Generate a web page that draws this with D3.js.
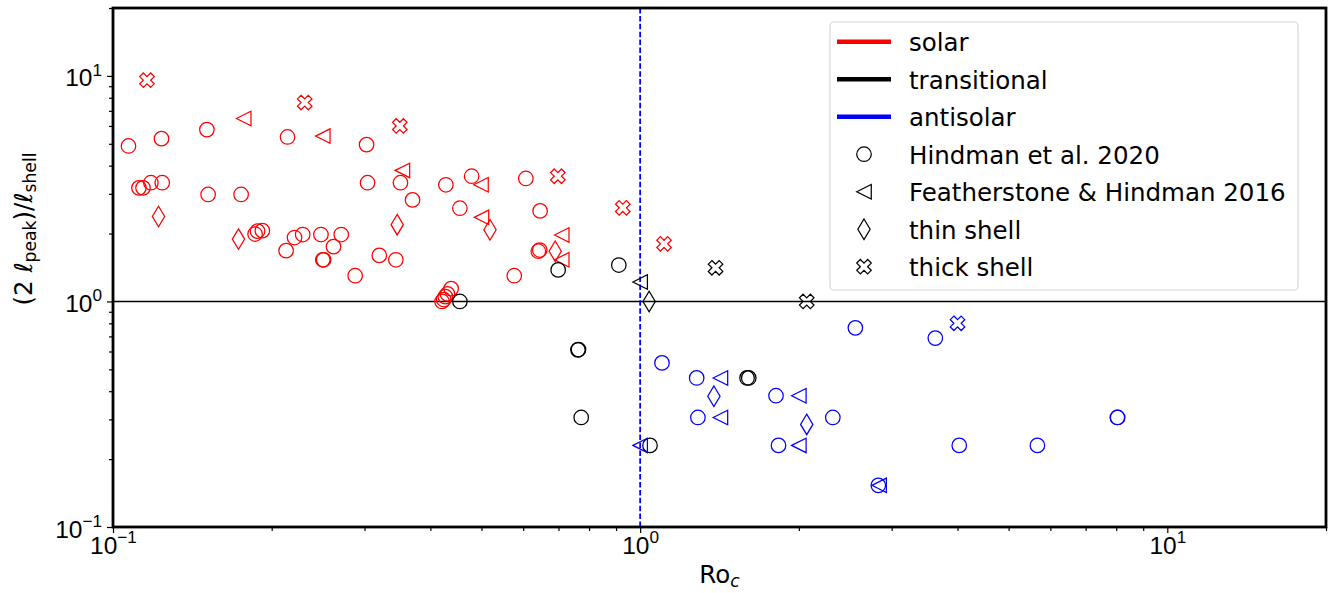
<!DOCTYPE html>
<html lang="en">
<head>
<meta charset="UTF-8">
<title>Ro_c vs peak wavenumber</title>
<script src="https://d3js.org/d3.v7.min.js"></script>
<style>
  body { margin: 0; background: #fff; }
  svg { font-family: "DejaVu Sans", sans-serif; }
</style>
</head>
<body>
<svg id="chart" width="1338" height="593"></svg>
<script>
// --- data: [Ro_c, (2 l_peak)/l_shell] ---
const solarHindman = [
  [0.107, 4.89], [0.1236, 5.27], [0.1507, 5.78], [0.2143, 5.36], [0.3027, 4.96],
  [0.112, 3.19], [0.114, 3.19], [0.118, 3.36], [0.124, 3.36],
  [0.1515, 2.98], [0.175, 2.98], [0.304, 3.36], [0.351, 3.36], [0.370, 2.82], [0.428, 3.29],
  [0.186, 1.99], [0.188, 2.05], [0.192, 2.06],
  [0.213, 1.68], [0.221, 1.92], [0.229, 1.98], [0.248, 1.98], [0.271, 1.98], [0.262, 1.75],
  [0.250, 1.53], [0.251, 1.53], [0.288, 1.30], [0.320, 1.60], [0.344, 1.53],
  [0.479, 3.59], [0.455, 2.59], [0.607, 3.51], [0.646, 2.52], [0.641, 1.67], [0.645, 1.69],
  [0.577, 1.30],
  [0.421, 1.0], [0.424, 1.02], [0.427, 1.05], [0.431, 1.08], [0.438, 1.14]
];
const solarFeather = [
  [0.177, 6.47], [0.25, 5.41], [0.354, 3.81], [0.499, 3.29], [0.50, 2.36], [0.71, 1.97], [0.71, 1.53]
];
const solarThin = [[0.122, 2.38], [0.173, 1.89], [0.346, 2.19], [0.519, 2.08], [0.69, 1.67]];
const solarThick = [[0.116, 9.57], [0.231, 7.62], [0.35, 6.0], [0.698, 3.59], [0.927, 2.60], [1.11, 1.80]];

const transHindman = [
  [0.699, 1.38], [0.911, 1.45], [0.455, 1.0], [0.762, 0.61], [0.764, 0.612],
  [0.773, 0.306], [1.044, 0.23], [1.595, 0.458], [1.607, 0.458]
];
const transFeather = [[1.0, 1.22]];
const transThin = [[1.04, 1.0]];
const transThick = [[1.39, 1.41], [2.07, 1.0]];

const antiHindman = [
  [1.10, 0.534], [1.28, 0.458], [1.287, 0.306], [1.81, 0.382], [1.83, 0.23], [2.32, 0.306],
  [2.56, 0.764], [3.63, 0.688], [4.03, 0.23], [5.67, 0.23], [8.04, 0.306], [8.05, 0.306],
  [2.83, 0.153]
];
const antiFeather = [[1.42, 0.458], [1.42, 0.306], [2.0, 0.382], [2.0, 0.23], [1.0, 0.23], [2.84, 0.153]];
const antiThin = [[1.38, 0.38], [2.07, 0.285]];
const antiThick = [[4.0, 0.80]];

const regimeLabels = ['solar', 'transitional', 'antisolar'];
const sourceLabels = ['Hindman et al. 2020', 'Featherstone & Hindman 2016', 'thin shell', 'thick shell'];
const majorTicks = [0.1, 1, 10];
const minorTicks = [0.2, 0.3, 0.4, 0.5, 0.6, 0.7, 0.8, 0.9, 2, 3, 4, 5, 6, 7, 8, 9, 20];

const colors = ['#ff0000', '#000000', '#0000ff'];
const shapes = ['circle', 'triangle', 'thin', 'x'];

const groups = [
  [solarHindman, solarFeather, solarThin, solarThick],
  [transHindman, transFeather, transThin, transThick],
  [antiHindman, antiFeather, antiThin, antiThick]
];

// --- layout ---
const svg = d3.select('#chart');
const L = 113, T = 8, R = 1326, B = 527;
const fs = 24.5;

const x = d3.scaleLog().domain([0.1, 20]).range([L, R]);
const y = d3.scaleLog().domain([0.1, 20]).range([B, T]);

const m = 14.5; // marker size
function markerPath(shape) {
  const h = m / 2;
  if (shape === 'triangle') return `M${-h},0L${h},${-h}L${h},${h}Z`;
  if (shape === 'thin') {
    const a = 0.707 * m, b = 0.424 * m;
    return `M0,${-a}L${b},0L0,${a}L${-b},0Z`;
  }
  if (shape === 'x') {
    const p = [[0.25, 0], [0.5, 0.25], [0.75, 0], [1, 0.25], [0.75, 0.5], [1, 0.75],
               [0.75, 1], [0.5, 0.75], [0.25, 1], [0, 0.75], [0.25, 0.5], [0, 0.25]];
    return 'M' + p.map(d => `${(d[0] - 0.5) * m},${(d[1] - 0.5) * m}`).join('L') + 'Z';
  }
  return d3.symbol(d3.symbolCircle, Math.PI * h * h)();
}

// reference lines
svg.append('line')
  .attr('x1', L).attr('x2', R).attr('y1', y(1)).attr('y2', y(1))
  .attr('stroke', '#000').attr('stroke-width', 1.5);
svg.append('line')
  .attr('x1', x(1)).attr('x2', x(1)).attr('y1', T).attr('y2', B)
  .attr('stroke', '#0000ff').attr('stroke-width', 1.8).attr('stroke-dasharray', '5.5,2.4');

// markers
groups.forEach((row, ci) => {
  row.forEach((data, si) => {
    svg.append('g').selectAll('path').data(data).join('path')
      .attr('d', markerPath(shapes[si]))
      .attr('transform', d => `translate(${x(d[0])},${y(d[1])})`)
      .attr('fill', 'none')
      .attr('stroke', colors[ci])
      .attr('stroke-width', 1.25);
  });
});

// axes
function styleAxis(g) {
  g.select('.domain').remove();
  g.selectAll('line').attr('stroke', '#000').attr('stroke-width', 1.2);
}
svg.append('g').attr('transform', `translate(0,${B})`)
  .call(d3.axisBottom(x).tickValues(minorTicks).tickSize(4).tickFormat(''))
  .call(styleAxis);
const xMaj = svg.append('g').attr('transform', `translate(0,${B})`)
  .call(d3.axisBottom(x).tickValues(majorTicks).tickSize(6).tickFormat(''))
  .call(styleAxis);
svg.append('g').attr('transform', `translate(${L},0)`)
  .call(d3.axisLeft(y).tickValues(minorTicks).tickSize(4).tickFormat(''))
  .call(styleAxis);
const yMaj = svg.append('g').attr('transform', `translate(${L},0)`)
  .call(d3.axisLeft(y).tickValues(majorTicks).tickSize(6).tickFormat(''))
  .call(styleAxis);

function powLabel(sel) {
  sel.selectAll('text').remove();
  const t = sel.append('text').attr('fill', '#000').attr('font-size', fs);
  t.append('tspan').text('10');
  t.append('tspan').attr('font-size', 17.2).attr('dy', -10.9)
    .text(d => String(Math.round(Math.log10(d))).replace('-', '\u2212'));
  return t;
}
powLabel(xMaj.selectAll('.tick')).attr('text-anchor', 'middle').attr('x', 0).attr('y', 27).attr('dy', null);
powLabel(yMaj.selectAll('.tick')).attr('text-anchor', 'end').attr('x', -11).attr('y', 10).attr('dy', null);

// frame
svg.append('rect')
  .attr('x', L).attr('y', T).attr('width', R - L).attr('height', B - T)
  .attr('fill', 'none').attr('stroke', '#000').attr('stroke-width', 2.8);

// axis labels
const xl = svg.append('text').attr('x', (L + R) / 2).attr('y', 583)
  .attr('text-anchor', 'middle').attr('font-size', fs);
xl.append('tspan').text('Ro');
xl.append('tspan').attr('font-size', 17.2).attr('font-style', 'italic').attr('dy', 4).text('c');

const yl = svg.append('text').attr('transform', 'translate(32,229) rotate(-90)')
  .attr('text-anchor', 'middle').attr('font-size', fs);
yl.append('tspan').text('(2 ');
yl.append('tspan').attr('font-style', 'italic').text('\u2113');
yl.append('tspan').attr('font-size', 17.2).attr('dy', 4).text('peak');
yl.append('tspan').attr('dy', -4).text(')/');
yl.append('tspan').attr('font-style', 'italic').text('\u2113');
yl.append('tspan').attr('font-size', 17.2).attr('dy', 4).text('shell');

// legend
const lg = svg.append('g');
lg.append('rect').attr('x', 830).attr('y', 22).attr('width', 468).attr('height', 268)
  .attr('rx', 4).attr('fill', '#fff').attr('fill-opacity', 0.8)
  .attr('stroke', '#d6d6d6').attr('stroke-width', 1.2);
const rowY = i => 41.7 + i * 37.5;
regimeLabels.forEach((lab, i) => {
  lg.append('line').attr('x1', 837).attr('x2', 891).attr('y1', rowY(i)).attr('y2', rowY(i))
    .attr('stroke', colors[i]).attr('stroke-width', 4.5);
  lg.append('text').attr('x', 909).attr('y', rowY(i) + 9.7).attr('font-size', fs).text(lab);
});
sourceLabels.forEach((lab, j) => {
  const i = j + 3;
  lg.append('path').attr('d', markerPath(shapes[j]))
    .attr('transform', `translate(864,${rowY(i)})`)
    .attr('fill', 'none').attr('stroke', '#000').attr('stroke-width', 1.25);
  lg.append('text').attr('x', 909).attr('y', rowY(i) + 9.7).attr('font-size', fs).text(lab);
});
</script>
</body>
</html>
